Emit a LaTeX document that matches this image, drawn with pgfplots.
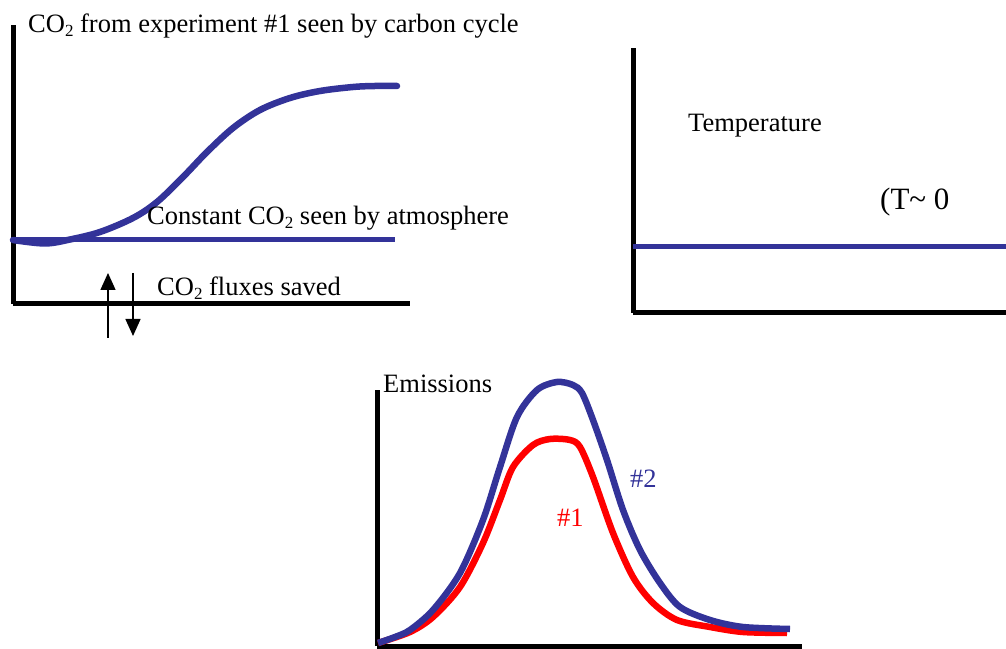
\documentclass[border=0pt]{standalone}
\usepackage{fontspec}
\setmainfont{Liberation Serif}
\usepackage{pgfplots}
\pgfplotsset{compat=1.18}
\usetikzlibrary{arrows.meta}
\definecolor{pblue}{RGB}{51,51,153}
\definecolor{pred}{RGB}{255,0,0}
\newcommand{\sub}{\raisebox{-4pt}{\fontsize{17}{17}\selectfont 2}}
\pgfplotsset{panel/.style={scale only axis, axis x line=bottom, axis y line=left,
  axis line style={-, line width=5pt, black}, xtick=\empty, ytick=\empty,
  clip=false, anchor=south west}}
\begin{document}
\fontsize{26.5}{30}\selectfont
\begin{tikzpicture}
\path[use as bounding box] (0pt,0pt) rectangle (1006pt,648pt);
% Panel 1
\begin{axis}[panel, at={(13pt,344pt)}, width=397pt, height=279pt,
  xmin=13, xmax=410, ymin=344, ymax=623]
\addplot[pblue, line width=5pt, line cap=butt] coordinates {(13,408) (395,408)};
\addplot[pblue, line width=6.5pt, smooth, tension=0.55, line cap=round] coordinates {
(13,408) (45,404.5) (70,408.5) (100,416) (133,430) (157,446) (183,471)
(207,496) (233,520) (260,538) (290,550) (320,557) (353,561) (375,562) (397,562)};
\node[anchor=base west, inner sep=0pt] at (axis cs:28,615) {CO\sub{} from experiment \#1 seen by carbon cycle};
\node[anchor=base west, inner sep=0pt] at (axis cs:147,423) {Constant CO\sub{} seen by atmosphere};
\node[anchor=base west, inner sep=0pt] at (axis cs:157,352) {CO\sub{} fluxes saved};
\draw[line width=1.5pt, -{Triangle[length=17pt, width=15pt]}] (axis cs:108,310) -- (axis cs:108,375);
\draw[line width=1.5pt, -{Triangle[length=17pt, width=15pt]}] (axis cs:133,375) -- (axis cs:133,312);
\end{axis}
% Panel 2
\begin{axis}[panel, at={(633pt,335pt)}, width=373pt, height=265pt,
  xmin=633, xmax=1006, ymin=335, ymax=600]
\addplot[pblue, line width=5pt] coordinates {(633,401) (1006,401)};
\node[anchor=base west, inner sep=0pt] at (axis cs:688,516) {Temperature};
\node[anchor=base west, inner sep=0pt, font=\fontsize{31}{34}\selectfont] at (axis cs:880,438) {(T\textasciitilde{} 0};
\end{axis}
% Panel 3
\begin{axis}[panel, at={(377pt,2pt)}, width=425pt, height=256pt,
  xmin=377, xmax=802, ymin=2, ymax=258]
\addplot[pred, line width=6.5pt, smooth, tension=0.5] coordinates {
(378,5) (410,16) (433,31) (460,61) (483,105) (500,148) (513,181) (533,203)
(550,209) (570,208) (580,201) (593,171) (613,115) (633,71) (653,45) (677,28)
(710,21) (743,16) (787,15)};
\addplot[pblue, line width=6.5pt, smooth, tension=0.5] coordinates {
(378,5) (395,11) (410,18) (433,38) (460,75) (483,128) (500,181) (517,231)
(537,258) (557,266) (573,263) (582,255) (593,228) (607,188) (623,138) (640,98)
(660,65) (680,41) (710,28) (743,21) (790,19)};
\node[anchor=base west, inner sep=0pt] at (axis cs:383,255) {Emissions};
\node[anchor=base west, inner sep=0pt, text=pblue] at (axis cs:630,160) {\#2};
\node[anchor=base west, inner sep=0pt, text=pred] at (axis cs:557,121) {\#1};
\end{axis}
\end{tikzpicture}
\end{document}
